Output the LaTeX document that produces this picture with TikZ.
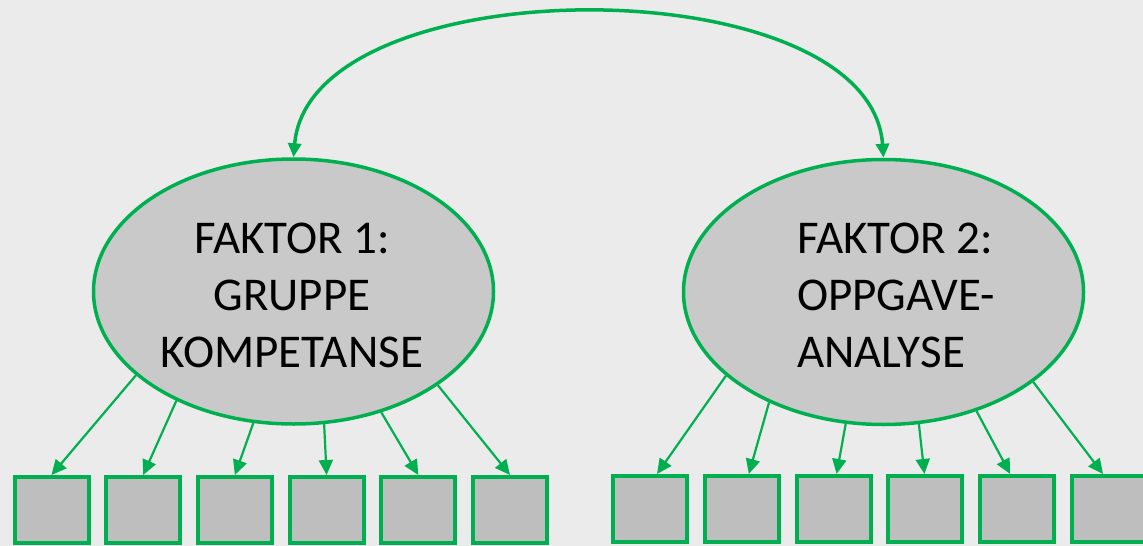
\documentclass[tikz,border=0pt]{standalone}
\usepackage{fontspec}
\setmainfont{Carlito}
\usetikzlibrary{arrows.meta,shapes.geometric}
\definecolor{grn}{HTML}{00B050}
\definecolor{bg}{HTML}{EBEBEB}
\definecolor{ellfill}{HTML}{C9C9C9}
\definecolor{boxfill}{HTML}{BEBEBE}
\begin{document}
\begin{tikzpicture}[x=1pt,y=-1pt,
  factor/.style={ellipse, draw=grn, line width=3.5pt, fill=ellfill, minimum width=400pt, minimum height=265pt, inner sep=0pt},
  item/.style={rectangle, draw=grn, line width=4pt, fill=boxfill, minimum width=74pt, minimum height=66pt, inner sep=0pt},
  load/.style={draw=grn, line width=2.2pt, -{Triangle[length=15pt,width=14pt]}},
  cov/.style={draw=grn, line width=3.5pt, {Triangle[length=14pt,width=13pt]}-{Triangle[length=14pt,width=13pt]}},
  lbl/.style={font=\fontsize{47}{57}\selectfont, inner sep=0pt, text=black}]
\path[fill=bg] (0,0) rectangle (1143,546);
\useasboundingbox (0,0) rectangle (1143,546);

\node[factor] (f1) at (293.5,291.5) {};
\node[factor] (f2) at (883.5,292) {};

\node[lbl, align=center] (t1) at (292,295) {FAKTOR 1:\\GRUPPE\\KOMPETANSE};
\node[lbl, align=left, anchor=west] (t2) at (797,295) {FAKTOR 2:\\OPPGAVE-\\ANALYSE};

\foreach \i in {1,...,6} {
  \node[item] (l\i) at ({51.5+91.7*(\i-1)},510) {};
  \node[item] (r\i) at ({650+91.8*(\i-1)},509) {};
}

\foreach \i/\a in {1/208,2/223.5,3/253,4/283,5/306,6/327}
  \draw[load] (f1.\a) -- (l\i.north);
\foreach \i/\a/\s in {1/208/7,2/224/7,3/254/3,4/285/-1,5/308.5/-7,6/329/-6}
  \draw[load] (f2.\a) -- ([xshift=\s pt]r\i.north);

\draw[cov] (f1.north) .. controls (310,-35) and (870,-35) .. (f2.north);
\end{tikzpicture}
\end{document}
